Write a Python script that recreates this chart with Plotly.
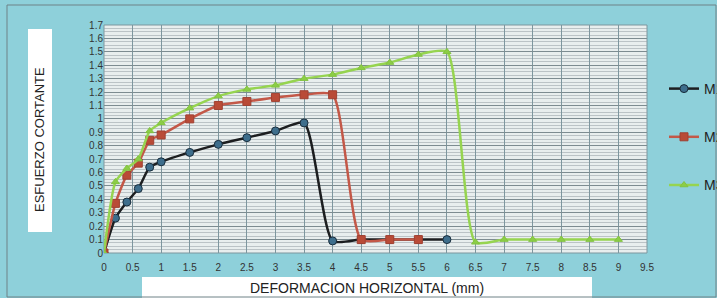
import plotly.graph_objects as go

# Data
x_m1 = [0, 0.2, 0.4, 0.6, 0.8, 1, 1.5, 2, 2.5, 3, 3.5, 4, 4.5, 5, 5.5, 6]
y_m1 = [0, 0.26, 0.38, 0.48, 0.64, 0.68, 0.75, 0.81, 0.86, 0.91, 0.97, 0.09, 0.1, 0.1, 0.1, 0.1]

x_m2 = [0, 0.2, 0.4, 0.6, 0.8, 1, 1.5, 2, 2.5, 3, 3.5, 4, 4.5, 5, 5.5]
y_m2 = [0, 0.37, 0.58, 0.67, 0.84, 0.88, 1.0, 1.1, 1.13, 1.16, 1.18, 1.18, 0.1, 0.1, 0.1]

x_m3 = [0, 0.2, 0.4, 0.6, 0.8, 1, 1.5, 2, 2.5, 3, 3.5, 4, 4.5, 5, 5.5, 6, 6.5, 7, 7.5, 8, 8.5, 9]
y_m3 = [0, 0.53, 0.63, 0.7, 0.91, 0.97, 1.08, 1.17, 1.22, 1.25, 1.3, 1.33, 1.38, 1.42, 1.48, 1.5, 0.08, 0.1, 0.1, 0.1, 0.1, 0.1]

names = ["M1", "M2", "M3"]
x_title = "DEFORMACION HORIZONTAL (mm)"
y_title = "ESFUERZO CORTANTE"

SM = 0.6

fig = go.Figure()
fig.add_trace(go.Scatter(
    x=x_m1, y=y_m1, name=names[0], legendgroup="g1", mode="lines+markers",
    line=dict(color="rgb(28,30,32)", width=2.5, shape="spline", smoothing=SM),
    marker=dict(symbol="circle", size=8, color="rgb(62,110,140)", line=dict(color="rgb(25,45,60)", width=1)),
))
fig.add_trace(go.Scatter(
    x=x_m2, y=y_m2, name=names[1], legendgroup="g2", mode="lines+markers",
    line=dict(color="rgb(195,88,72)", width=2.5, shape="spline", smoothing=SM),
    marker=dict(symbol="square", size=8, color="rgb(185,75,55)", line=dict(color="rgb(160,65,50)", width=1)),
))
fig.add_trace(go.Scatter(
    x=x_m3, y=y_m3, name=names[2], legendgroup="g3", mode="lines+markers",
    line=dict(color="rgb(150,212,80)", width=2.5, shape="spline", smoothing=SM),
    marker=dict(symbol="triangle-up", size=7, color="rgb(140,205,70)", line=dict(color="rgb(130,195,65)", width=1)),
))

tickfont = dict(family="Liberation Sans Narrow, Arial Narrow, Liberation Sans, sans-serif", size=10, color="#333")

W, L, T, H, B = 543, 104, 25, 228, 253

def px(xp):
    return (xp - L) / W

def py(yp):
    return (B - yp) / H

fig.update_layout(
    width=717, height=298,
    margin=dict(l=104, r=70, t=25, b=45, autoexpand=False),
    paper_bgcolor="rgb(142,208,218)",
    plot_bgcolor="rgb(232,238,238)",
    showlegend=True,
    legend=dict(
        x=px(664), xanchor="left", y=py(73), yanchor="top",
        bgcolor="rgba(0,0,0,0)", tracegroupgap=27, itemwidth=30,
        font=dict(family="Liberation Sans, Arial, sans-serif", size=14, color="#222"),
    ),
    xaxis=dict(
        range=[0, 9.5], dtick=0.5, tick0=0, showgrid=True,
        gridcolor="rgb(125,150,158)", gridwidth=1,
        zeroline=False, showline=False,
        ticks="outside", ticklen=5, tickcolor="rgba(0,0,0,0)",
        tickfont=tickfont,
    ),
    yaxis=dict(
        range=[0, 1.7], dtick=0.1, tick0=0, showgrid=True,
        gridcolor="rgb(125,140,145)", gridwidth=1,
        minor=dict(dtick=0.025, showgrid=True, gridcolor="rgba(150,160,165,0.55)", gridwidth=1),
        zeroline=False, showline=False, ticks="",
        tickfont=tickfont,
    ),
    shapes=[
        dict(type="rect", xref="paper", yref="paper", x0=0, x1=1, y0=0, y1=1,
             line=dict(color="rgb(125,150,158)", width=1), layer="below"),
        dict(type="rect", xref="paper", yref="paper", x0=px(28), x1=px(52),
             y0=py(232), y1=py(29), fillcolor="white", line=dict(width=0), layer="below"),
        dict(type="rect", xref="paper", yref="paper", x0=px(142), x1=px(592),
             y0=py(298), y1=py(277), fillcolor="white", line=dict(width=0), layer="below"),
        dict(type="rect", xref="paper", yref="paper", x0=px(7), x1=px(716),
             y0=py(297), y1=py(5), line=dict(color="rgb(110,130,135)", width=1), layer="below"),
    ],
    annotations=[
        dict(text=y_title, xref="paper", yref="paper", x=px(39), y=py(140),
             xanchor="center", yanchor="middle",
             showarrow=False, textangle=-90, font=dict(family="Liberation Sans, Arial, sans-serif", size=13, color="#222")),
        dict(text=x_title, xref="paper", yref="paper", x=px(367), y=py(288),
             xanchor="center", yanchor="middle",
             showarrow=False, font=dict(family="Liberation Sans, Arial, sans-serif", size=14, color="#222")),
    ],
)

fig.write_html("out.html", config={"displayModeBar": False},
               post_script="document.body.style.margin='0';document.body.style.overflow='hidden';")
